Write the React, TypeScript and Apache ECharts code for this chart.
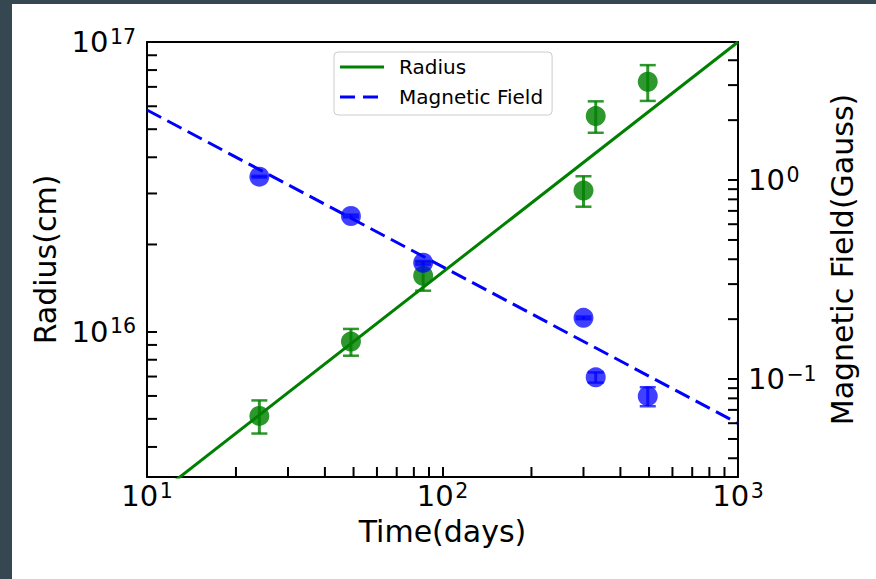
import { useEffect, useRef } from 'react';
import * as echarts from 'echarts';

const times = [24, 49, 86, 300, 330, 495];
const radius = [5.12e15, 9.24e15, 1.56e16, 3.07e16, 5.55e16, 7.29e16];
const radiusErr = [0.67e15, 0.98e15, 1.75e15, 3.7e15, 6.9e15, 1.03e16];
const field = [1.04, 0.66, 0.384, 0.203, 0.102, 0.082];
const fieldErr = [0.01, 0.01, 0.008, 0.003, 0.006, 0.009];
const fitTimes = [10, 1000];
const radiusFit = [2.57e15, 1.0e17];
const fieldFit = [2.25, 0.0599];
const timeRange = [10, 1000];
const radiusRange = [3.15e15, 1e17];
const fieldRange = [0.0322, 4.94];
const timeMinorTicks = [20, 30, 40, 50, 60, 70, 80, 90, 200, 300, 400, 500, 600, 700, 800, 900];
const radiusMinorTicks = [4e15, 5e15, 6e15, 7e15, 8e15, 9e15, 2e16, 3e16, 4e16, 5e16, 6e16, 7e16, 8e16, 9e16];
const fieldMinorTicks = [0.04, 0.05, 0.06, 0.07, 0.08, 0.09, 0.2, 0.3, 0.4, 0.5, 0.6, 0.7, 0.8, 0.9, 2, 3, 4];
const seriesNames = ['Radius', 'Magnetic Field'];
const axisNames = ['Time(days)', 'Radius(cm)', 'Magnetic Field(Gauss)'];

const F = '"DejaVu Sans", sans-serif';
const GREEN = '#008000';
const BLUE = '#0000ff';
const GREEN_A = 'rgba(0,128,0,0.82)';
const BLUE_A = 'rgba(0,0,255,0.75)';

const sup = (v: number) => {
  const l = Math.log10(v);
  const e = Math.round(l);
  if (Math.abs(l - e) > 1e-6) return '';
  const s = e < 0 ? '\u2212' + -e : String(e);
  return `{b|10}{s|${s}}`;
};

const rich = {
  b: { fontSize: 29, fontFamily: F, color: '#000', lineHeight: 32 },
  s: { fontSize: 20.5, fontFamily: F, color: '#000', lineHeight: 15, verticalAlign: 'top', padding: [0, 0, 0, 1.5] },
};

const lineStyle = { color: '#000', width: 2 };
const tickStyle = { show: true, inside: true, length: 10, lineStyle: { color: '#000', width: 2 } };
const nameStyle = { fontSize: 30, fontFamily: F, color: '#000' };

function tickSeries(xIdx: number, yIdx: number, data: number[][], dx: number, dy: number) {
  return {
    type: 'custom',
    xAxisIndex: xIdx,
    yAxisIndex: yIdx,
    silent: true,
    z: 10,
    data,
    renderItem: (_p: any, api: any) => {
      const p = api.coord([api.value(0), api.value(1)]);
      return {
        type: 'line',
        shape: { x1: p[0], y1: p[1], x2: p[0] + dx, y2: p[1] + dy },
        style: { stroke: '#000', lineWidth: 2 },
      };
    },
  };
}

function errSeries(yIdx: number, data: number[][], color: string, z: number) {
  return {
    type: 'custom',
    xAxisIndex: 0,
    yAxisIndex: yIdx,
    silent: true,
    z,
    data,
    encode: { x: 0, y: [1, 2] },
    renderItem: (_p: any, api: any) => {
      const lo = api.coord([api.value(0), api.value(1)]);
      const hi = api.coord([api.value(0), api.value(2)]);
      const st = { stroke: color, lineWidth: 3 };
      return {
        type: 'group',
        children: [
          { type: 'line', shape: { x1: lo[0], y1: lo[1], x2: hi[0], y2: hi[1] }, style: st },
          { type: 'line', shape: { x1: lo[0] - 8, y1: lo[1], x2: lo[0] + 8, y2: lo[1] }, style: { stroke: color, lineWidth: 2.5 } },
          { type: 'line', shape: { x1: hi[0] - 8, y1: hi[1], x2: hi[0] + 8, y2: hi[1] }, style: { stroke: color, lineWidth: 2.5 } },
        ],
      };
    },
  };
}

export default function App() {
  const ref = useRef<HTMLDivElement>(null);
  useEffect(() => {
    if (!ref.current) return;
    const chart = echarts.init(ref.current, null, { renderer: 'svg' });
    const option: any = {
      animation: false,
      backgroundColor: '#ffffff',
      grid: { left: 135, top: 38, width: 591, height: 435, containLabel: false },
      legend: {
        data: [
          { name: seriesNames[0], icon: 'path://M0,0H44V3H0Z' },
          { name: seriesNames[1], icon: 'path://M0,0H15V3H0Z M23,0H38V3H23Z M44,3' },
        ],
        orient: 'vertical',
        left: 322,
        top: 48,
        itemWidth: 44,
        itemHeight: 3,
        itemGap: 10,
        padding: [5, 9, 8, 6],
        backgroundColor: 'rgba(255,255,255,0.8)',
        borderColor: '#cccccc',
        borderWidth: 1,
        borderRadius: 4,
        itemStyle: { borderWidth: 0 },
        textStyle: { fontSize: 20, fontFamily: F, color: '#000', padding: [0, 0, 0, 10] },
      },
      xAxis: [
        {
          type: 'log', logBase: 10, min: timeRange[0], max: timeRange[1], position: 'bottom',
          axisLine: { show: true, onZero: false, lineStyle },
          axisTick: tickStyle,
          axisLabel: { formatter: sup, margin: 3, rich, showMinLabel: true, showMaxLabel: true },
          splitLine: { show: false },
          name: axisNames[0], nameLocation: 'middle', nameGap: 39, nameTextStyle: nameStyle,
        },
        {
          type: 'log', logBase: 10, min: timeRange[0], max: timeRange[1], position: 'top',
          axisLine: { show: true, onZero: false, lineStyle },
          axisTick: { show: false }, axisLabel: { show: false }, splitLine: { show: false },
        },
      ],
      yAxis: [
        {
          type: 'log', logBase: 10, min: radiusRange[0], max: radiusRange[1], position: 'left',
          axisLine: { show: true, onZero: false, lineStyle },
          axisTick: tickStyle,
          axisLabel: { formatter: sup, margin: 11, rich, showMinLabel: true, showMaxLabel: true },
          splitLine: { show: false },
          name: axisNames[1], nameLocation: 'middle', nameGap: 84, nameTextStyle: nameStyle,
        },
        {
          type: 'log', logBase: 10, min: fieldRange[0], max: fieldRange[1], position: 'right',
          axisLine: { show: true, onZero: false, lineStyle },
          axisTick: tickStyle,
          axisLabel: { formatter: sup, margin: 10, rich, showMinLabel: true, showMaxLabel: true },
          splitLine: { show: false },
          name: axisNames[2], nameLocation: 'middle', nameGap: 77, nameTextStyle: nameStyle,
        },
      ],
      series: [
        {
          name: seriesNames[0], type: 'line', xAxisIndex: 0, yAxisIndex: 0, z: 2,
          data: fitTimes.map((t, i) => [t, radiusFit[i]]),
          symbol: 'none', showSymbol: false, silent: true,
          lineStyle: { color: GREEN, width: 3 }, itemStyle: { color: GREEN },
        },
        errSeries(0, times.map((t, i) => [t, radius[i] - radiusErr[i], radius[i] + radiusErr[i]]), GREEN_A, 3),
        {
          name: 'Radius data', type: 'scatter', xAxisIndex: 0, yAxisIndex: 0, z: 3, silent: true,
          data: times.map((t, i) => [t, radius[i]]), symbolSize: 20,
          itemStyle: { color: GREEN_A, opacity: 1 },
        },
        {
          name: seriesNames[1], type: 'line', xAxisIndex: 0, yAxisIndex: 1, z: 4,
          data: fitTimes.map((t, i) => [t, fieldFit[i]]),
          symbol: 'none', showSymbol: false, silent: true,
          lineStyle: { color: BLUE, width: 3, type: [16, 7] }, itemStyle: { color: BLUE },
        },
        errSeries(1, times.map((t, i) => [t, field[i] - fieldErr[i], field[i] + fieldErr[i]]), BLUE_A, 5),
        {
          name: 'Field data', type: 'scatter', xAxisIndex: 0, yAxisIndex: 1, z: 5, silent: true,
          data: times.map((t, i) => [t, field[i]]), symbolSize: 20,
          itemStyle: { color: BLUE_A, opacity: 1 },
        },
        tickSeries(0, 0, timeMinorTicks.map((t) => [t, radiusRange[0]]), 0, -10),
        tickSeries(0, 0, radiusMinorTicks.map((v) => [timeRange[0], v]), 10, 0),
        tickSeries(0, 1, fieldMinorTicks.map((v) => [timeRange[1], v]), -10, 0),
      ],
    };
    chart.setOption(option);
    return () => chart.dispose();
  }, []);
  return (
    <div style={{ position: 'fixed', left: 0, top: 0, width: 876, height: 579, background: '#354751' }}>
      <div ref={ref} style={{ position: 'absolute', left: 12, top: 4, width: 864, height: 575, background: '#fff' }} />
    </div>
  );
}
